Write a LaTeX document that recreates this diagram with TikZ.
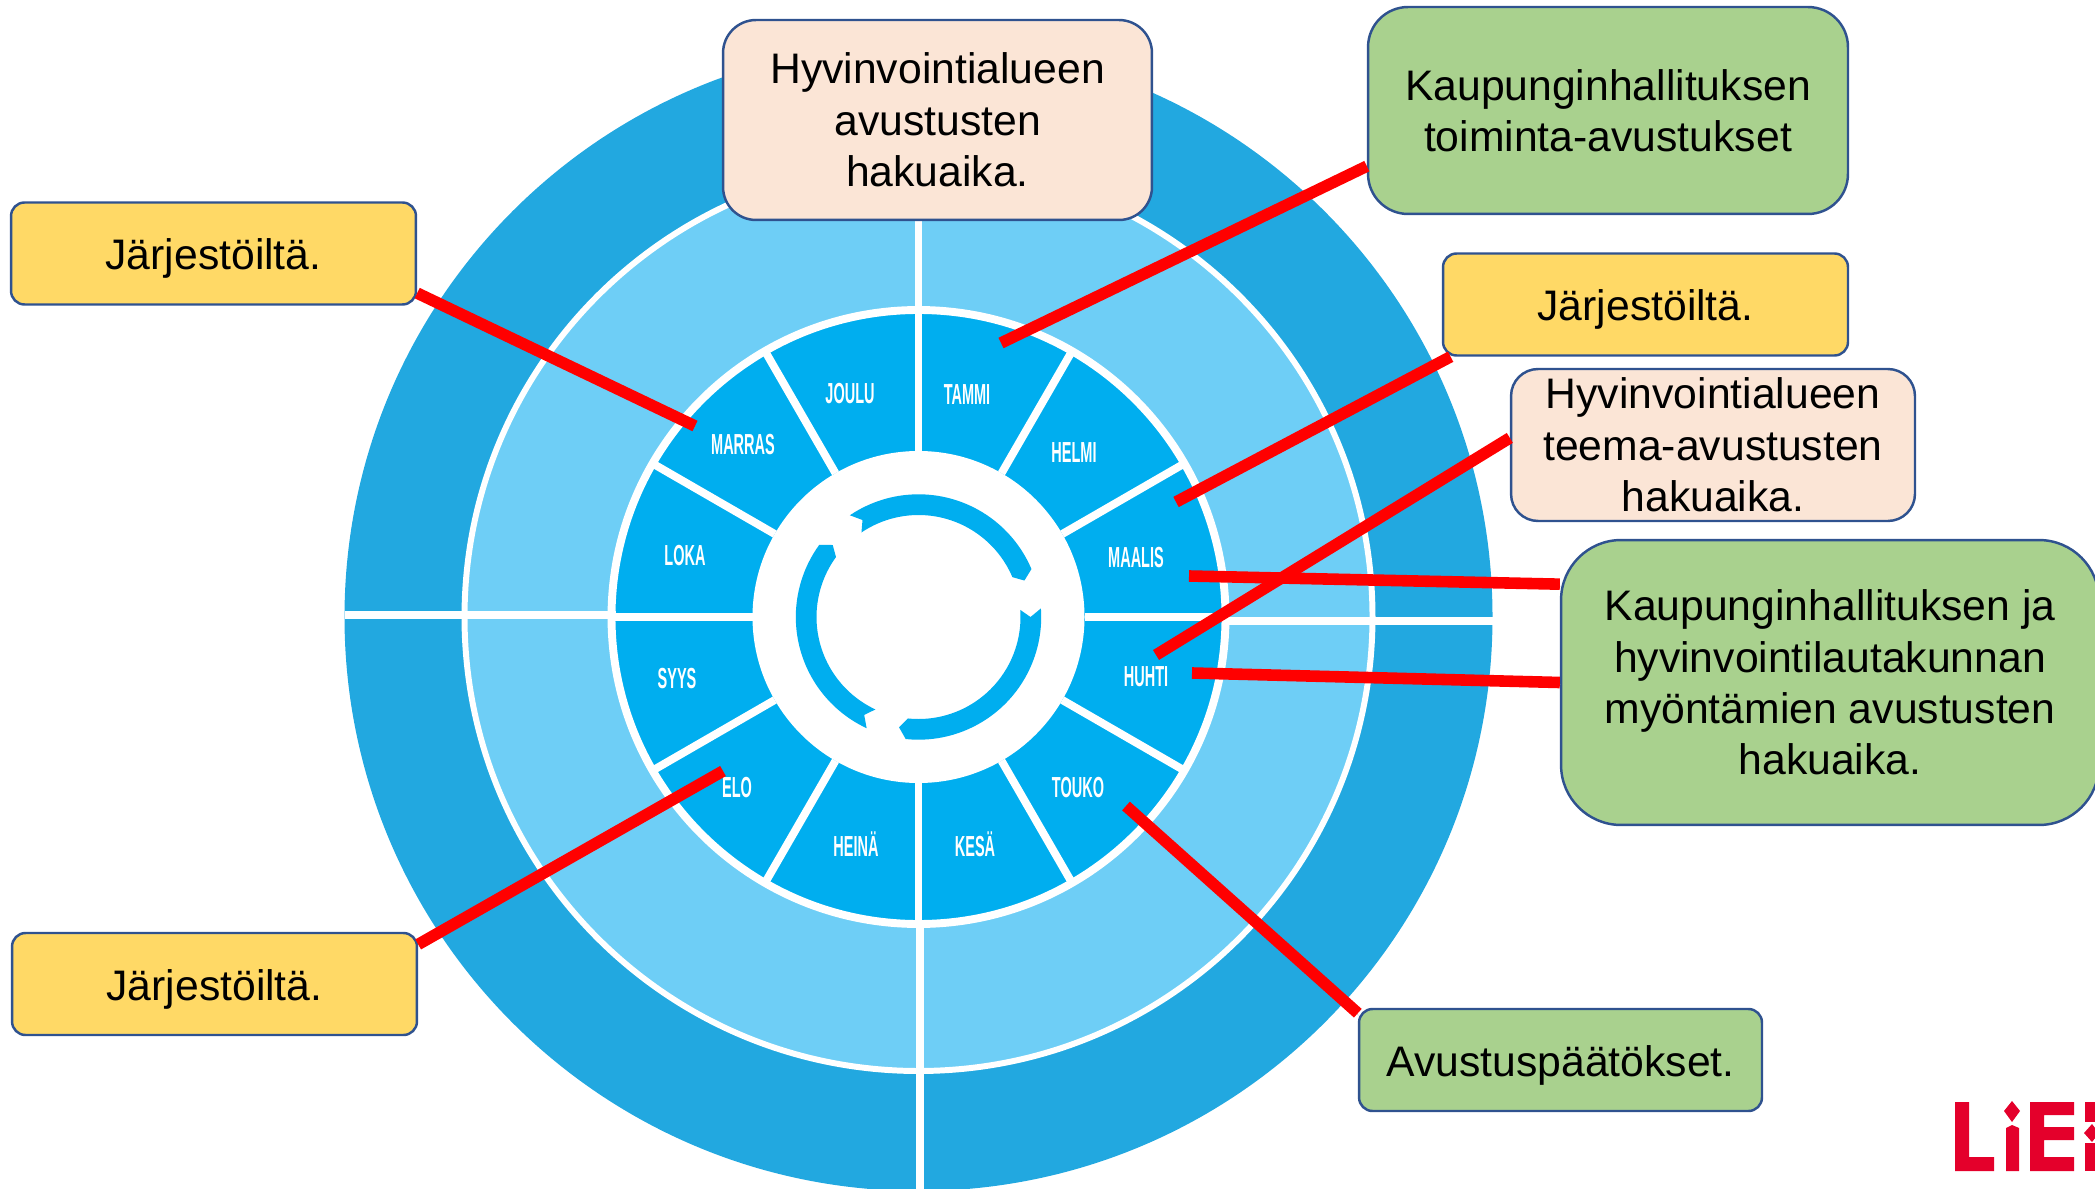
\documentclass[tikz,border=0pt]{standalone}
\usepackage{fontspec}
\setmainfont{Liberation Sans}
\newfontfamily\monthfont[FakeStretch=0.5]{Liberation Sans Bold}
\definecolor{outerblue}{RGB}{34,168,224}
\definecolor{midblue}{RGB}{110,206,246}
\definecolor{innerblue}{RGB}{0,174,239}
\definecolor{boxline}{RGB}{47,82,143}
\definecolor{boxyellow}{RGB}{255,217,102}
\definecolor{boxgreen}{RGB}{169,209,142}
\definecolor{boxbeige}{RGB}{251,229,214}
\definecolor{logored}{RGB}{228,0,43}
\tikzset{
	infobox/.style={draw=boxline, line width=1.4pt, align=center, inner sep=0pt, font=\fontsize{24.3}{29.2}\selectfont, execute at begin node={\rule{0pt}{23.5pt}}},
	onelinebox/.style={infobox, rounded corners=0.27cm, minimum height=2.04cm},
	yellowbox/.style={onelinebox, fill=boxyellow, minimum width=8.1cm},
	greenbox/.style={infobox, fill=boxgreen},
	beigebox/.style={infobox, fill=boxbeige},
	redlink/.style={draw=red, line width=6.6pt, preaction={draw=black!40, opacity=0.45, transform canvas={xshift=0.4pt,yshift=-1.2pt}}},
	whiteline/.style={draw=white, line width=4.5pt},
	month/.style={text=white, inner sep=0pt, font=\monthfont\fontsize{16.5}{16.5}\selectfont}
}
\begin{document}
\begin{tikzpicture}[x=0.02cm,y=-0.02cm]

		\clip (0,0) rectangle (2095,1189);
		\def \rhole {166};
		\def \rinner {303};
		\def \rmid {454};
		\def \router {574};

		\begin{scope}[shift={(918.5,617)}]
			\fill [outerblue] (0,0) circle (\router);
			\fill [midblue] (0,0) circle (\rmid);
			\draw [white, line width=3.4pt] (0,0) circle (\rmid);
			\fill [innerblue] (0,0) circle (\rinner+4);
			\draw [whiteline] (0,0) circle (\rinner+4);
			\fill [white] (0,0) circle (\rhole);

			\foreach \a in {0,30,...,330} {
				\draw [whiteline] (\a:\rhole) -- (\a:\rinner+4);
			}
			\draw [whiteline] (-\router,-2) -- (-\rinner,-2);
			\draw [whiteline] (\rinner+2,4) -- (\router+2,4);
			\draw [whiteline] (0,-\rmid) -- (0,-\rinner);
			\draw [whiteline] (1.5,\rinner) -- (1.5,\router+2);

			\foreach \s/\e in {236/337,356/456,115/216} {
				\fill [innerblue] (\s:122.7) arc (\s:\e:122.7) -- (\e+4:112) -- (\e:102) arc (\e:\s:102) -- (\s+4:112) -- cycle;
			}
		\end{scope}

		\foreach \m/\x/\y in {JOULU/850/394,TAMMI/967/395,HELMI/1074/453,MAALIS/1136/558,HUHTI/1146/677,TOUKO/1078/788,KESÄ/975/844,HEINÄ/856/844,ELO/737/788,SYYS/677/679,LOKA/685/556,MARRAS/743/445} {
			\node (m\m) at (\x,\y) [month] {\m};
		}

		\node (hyvA) at (937.5,120) [beigebox, rounded corners=0.66cm, minimum width=8.58cm, minimum height=4cm] {Hyvinvointialueen\\avustusten\\hakuaika.};
		\node (kaup) at (1608,110.5) [greenbox, rounded corners=0.8cm, minimum width=9.6cm, minimum height=4.14cm] {Kaupunginhallituksen\\toiminta-avustukset};
		\node (jarjA) at (213.5,253.5) [yellowbox] {Järjestöiltä.};
		\node (jarjB) at (1645.5,304.5) [yellowbox] {Järjestöiltä.};
		\node (hyvB) at (1713,445) [beigebox, rounded corners=0.54cm, minimum width=8.08cm, minimum height=3.04cm] {Hyvinvointialueen\\teema-avustusten\\hakuaika.};
		\node (myon) at (1830,682.5) [greenbox, rounded corners=1.2cm, minimum width=10.76cm, minimum height=5.7cm] {Kaupunginhallituksen ja\\hyvinvointilautakunnan\\myöntämien avustusten\\hakuaika.};
		\node (jarjC) at (214.5,984) [yellowbox] {Järjestöiltä.};
		\node (paat) at (1560.5,1060) [onelinebox, fill=boxgreen, minimum width=8.06cm] {Avustuspäätökset.};

		\coordinate (toMarras) at (695,426);
		\coordinate (toTammi) at (1001,343);
		\coordinate (toMaalisA) at (1176,502);
		\coordinate (toHuhtiA) at (1156,655);
		\coordinate (toMaalisB) at (1189,576);
		\coordinate (toHuhtiB) at (1192,673);
		\coordinate (toElo) at (723,771);
		\coordinate (toTouko) at (1126,806);

		\draw [redlink] (jarjA.-11) -- (toMarras);
		\draw [redlink] (kaup.193.2) -- (toTammi);
		\draw [redlink] (jarjB.195.6) -- (toMaalisA);
		\draw [redlink] (hyvB.178) -- (toHuhtiA);
		\draw [redlink] (myon.160.8) -- (toMaalisB);
		\draw [redlink] (myon.west) -- (toHuhtiB);
		\draw [redlink] (jarjC.11.4) -- (toElo);
		\draw [redlink] (paat.167) -- (toTouko);

		\fill [logored] (1955,1102) -- (1969,1102) -- (1969,1157) -- (1994,1157) -- (1994,1171) -- (1955,1171) -- cycle;
		\fill [logored] (2006,1128) -- (2012,1125) -- (2019,1128) -- (2019,1171) -- (2006,1171) -- cycle;
		\fill [logored] (2012,1101) -- (2020,1111) -- (2012,1122) -- (2004,1111) -- cycle;
		\fill [logored] (2030,1102) -- (2074,1102) -- (2074,1115) -- (2044,1115) -- (2044,1127) -- (2074,1127) -- (2074,1140) -- (2044,1140) -- (2044,1157) -- (2074,1157) -- (2074,1171) -- (2030,1171) -- cycle;
		\fill [logored] (2085,1102) rectangle (2095,1122);
		\fill [logored] (2092,1124) -- (2099,1133) -- (2092,1142) -- (2084,1133) -- cycle;
		\fill [logored] (2085,1143) rectangle (2095,1171);
	\end{tikzpicture}
\end{document}
